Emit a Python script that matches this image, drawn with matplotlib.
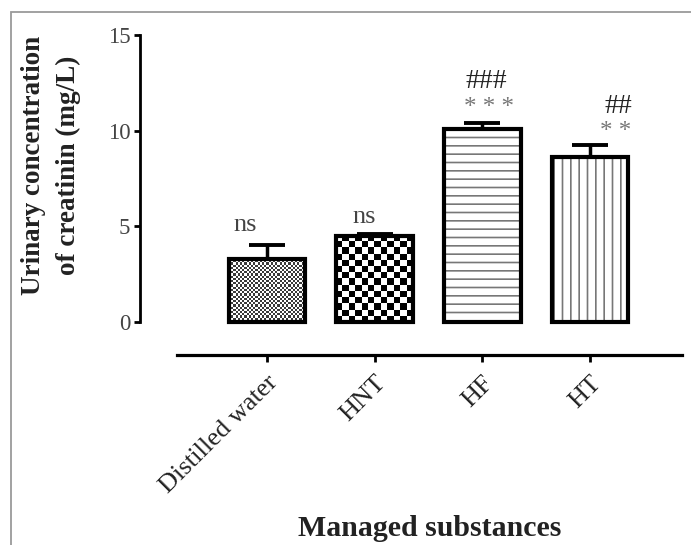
import numpy as np
import matplotlib
matplotlib.use("Agg")
import matplotlib.pyplot as plt
from matplotlib.colors import ListedColormap
from matplotlib.patches import Rectangle

# data
groups = ["Distilled water", "HNT", "HF", "HT"]
means = [3.3, 4.5, 10.1, 8.6]
errors = [0.7, 0.1, 0.3, 0.65]
marks_top = ["ns", "ns", "###", "##"]
marks_low = ["", "", "* * *", "* *"]

plt.rcParams["font.family"] = ["Liberation Serif", "DejaVu Serif"]
plt.rcParams["hatch.linewidth"] = 1.2

W, H = 691, 545
fig = plt.figure(figsize=(W / 100, H / 100), dpi=100)

# axes box in pixels: y axis at x=140, y=0 at 322 px, y=15 at 35 px
left, right, top, bottom = 140, 682, 35, 322
ax = fig.add_axes([left / W, 1 - bottom / H, (right - left) / W, (bottom - top) / H])
px_per_unit = 107.7
xlo = -(267 - left) / px_per_unit
xhi = 3 + (right - 590) / px_per_unit
ax.set_xlim(xlo, xhi)
ax.set_ylim(0, 15)

x = np.arange(len(groups))
width = 0.71

# frame around the figure
fig.add_artist(Rectangle((11 / W, -0.1), 1.2, 1 - 12 / H + 0.1, transform=fig.transFigure,
                         fill=False, edgecolor="#9a9a9a", lw=1.3, clip_on=False))

# error bars (upper only)
ax.errorbar(x, means, yerr=[np.zeros(len(means)), errors], fmt="none", ecolor="black",
            elinewidth=2.5, capsize=13, capthick=2.8, zorder=1, clip_on=False)

hatches = ["", "", "--", "||"]
fills = ax.bar(x, means, width, color="white", edgecolor="#777777", linewidth=0,
               hatch=hatches, zorder=2, clip_on=False)


def checker_fill(bar, cell_px, colors):
    x0, y0 = bar.get_x(), bar.get_y()
    w, h = bar.get_width(), bar.get_height()
    p0 = ax.transData.transform((x0, y0))
    p1 = ax.transData.transform((x0 + w, y0 + h))
    nx = max(1, int(round((p1[0] - p0[0]) / cell_px)))
    ny = max(1, int(round((p1[1] - p0[1]) / cell_px)))
    grid = np.add.outer(np.arange(ny), np.arange(nx)) % 2
    im = ax.imshow(grid, cmap=ListedColormap(colors), extent=(x0, x0 + w, y0, y0 + h),
                   interpolation="nearest", aspect="auto", zorder=2.5)
    im.set_clip_path(bar)


checker_fill(fills[0], 2.2, ["#ffffff", "#3a3a3a"])
checker_fill(fills[1], 6.3, ["#ffffff", "#000000"])
ax.set_xlim(xlo, xhi)
ax.set_ylim(0, 15)

ax.bar(x, means, width, fill=False, edgecolor="black", linewidth=3, zorder=3, clip_on=False)

# significance marks
top_dx = [-0.2, -0.1, 0.04, 0.26]
top_y = [5.07, 5.49, 12.55, 11.24]
low_dx = [0, 0, 0.065, 0.24]
low_y = [0, 0, 11.2, 9.95]
for i in range(len(groups)):
    is_ns = marks_top[i] == "ns"
    ax.text(x[i] + top_dx[i], top_y[i], marks_top[i], ha="center", va="center",
            fontsize=19 if is_ns else 20, color="#444444" if is_ns else "#222222")
    if marks_low[i]:
        ax.text(x[i] + low_dx[i], low_y[i], marks_low[i], ha="center", va="center",
                fontsize=18, color="#777777")

# axes styling (prism-like offset axes)
for s in ["top", "right"]:
    ax.spines[s].set_visible(False)
ax.spines["left"].set_bounds(0, 15)
ax.spines["left"].set_linewidth(2)
ax.spines["bottom"].set_position(("outward", 33 * 0.72))
ax.spines["bottom"].set_bounds(-(267 - 177) / px_per_unit, xhi)
ax.spines["bottom"].set_linewidth(2.3)

ax.set_yticks([0, 5, 10, 15])
ax.tick_params(axis="y", length=4, width=2, labelsize=16.5, labelcolor="#444444", pad=3)
ax.set_xticks(x)
ax.set_xticklabels(groups, rotation=45, ha="right", rotation_mode="anchor")
ax.tick_params(axis="x", length=5, width=2, labelsize=19, labelcolor="#222222", pad=7)

fig.text(51 / W, 1 - 165 / H, "Urinary concentration\nof creatinin (mg/L)", rotation=90,
         ha="center", va="center", multialignment="center", fontsize=19.5,
         fontweight="bold", linespacing=1.5, color="#222222")
fig.text(430 / W, 1 - 528 / H, "Managed substances", ha="center", va="center",
         fontsize=21.5, fontweight="bold", color="#222222")

fig.savefig("out.png", dpi=100)
